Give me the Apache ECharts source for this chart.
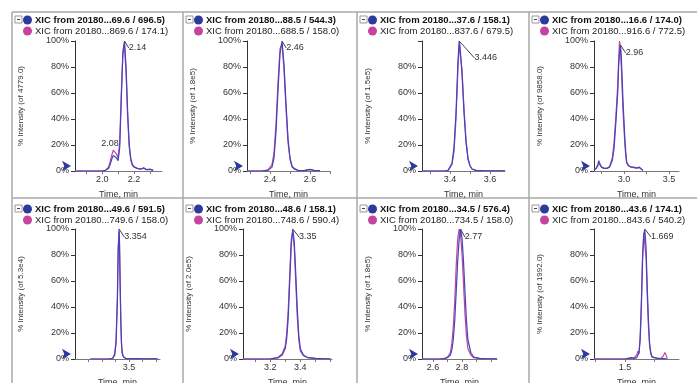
<!DOCTYPE html>
<html>
<head>
<meta charset="utf-8">
<script src="https://cdn.jsdelivr.net/npm/echarts@6/dist/echarts.min.js"></script>
<style>
  html, body { margin: 0; padding: 0; background: #fff; }
  #main { width: 697px; height: 383px; }
</style>
</head>
<body>
<div id="main"></div>
<script>
// values (time in min, intensity in %)
const time1 = [1.83, 1.86, 1.90, 1.94, 1.98, 2.00, 2.02, 2.04, 2.05, 2.06, 2.07, 2.08, 2.09, 2.10, 2.11, 2.12, 2.13, 2.14, 2.15, 2.16, 2.17, 2.18, 2.19, 2.20, 2.22, 2.24, 2.26, 2.28, 2.30, 2.32]
const blue1 = [0, 0, 0, 0, 0, 0, 0.5, 2, 5, 9, 12, 13, 10, 8, 18, 55, 92, 100, 80, 45, 20, 9, 5, 3, 2, 1.5, 2.5, 1, 1.5, 0.5]
const pink1 = [0, 0, 0, 0, 0, 0, 0.5, 3, 7, 12, 16, 17, 13, 10, 22, 60, 90, 96, 75, 40, 18, 8, 4, 2.5, 2, 1.5, 2, 1, 1, 0.5]

const time2 = [2.285, 2.32, 2.36, 2.39, 2.41, 2.42, 2.43, 2.44, 2.45, 2.46, 2.47, 2.48, 2.49, 2.50, 2.51, 2.52, 2.54, 2.57, 2.60, 2.62, 2.65]
const blue2 = [0, 0, 0, 0.5, 3, 10, 30, 62, 90, 100, 82, 52, 25, 10, 4, 1.5, 0.5, 0.3, 1.2, 0.5, 0.3]
const pink2 = [0, 0, 0, 0.8, 5, 14, 36, 68, 94, 98, 78, 48, 22, 9, 3, 1.5, 0.5, 0.3, 1, 0.5, 0.3]

const time3 = [3.26, 3.30, 3.34, 3.37, 3.39, 3.40, 3.41, 3.42, 3.43, 3.44, 3.446, 3.45, 3.46, 3.47, 3.48, 3.49, 3.50, 3.51, 3.53, 3.56, 3.60, 3.65, 3.675]
const blue3 = [0, 0, 0, 0, 0.5, 2, 6, 18, 45, 85, 100, 96, 75, 45, 22, 9, 4, 1.5, 0.5, 0.3, 0.2, 0.2, 0.2]
const pink3 = [0, 0, 0, 0, 0.3, 1.5, 5, 15, 40, 80, 97, 98, 78, 48, 24, 10, 4, 1.5, 0.5, 0.3, 0.2, 0.2, 0.2]

const time4 = [2.667, 2.69, 2.71, 2.72, 2.73, 2.75, 2.78, 2.81, 2.84, 2.87, 2.89, 2.91, 2.93, 2.94, 2.95, 2.96, 2.97, 2.98, 2.99, 3.00, 3.01, 3.02, 3.03, 3.05, 3.08, 3.11, 3.14, 3.17, 3.19, 3.21]
const blue4 = [1, 2, 5, 8, 6, 3, 2, 2, 3, 8, 18, 38, 60, 80, 90, 97, 88, 70, 52, 38, 24, 14, 7, 4, 3, 3, 2.5, 3, 3, 0.5]
const pink4 = [1, 2, 4, 6, 5, 3, 2, 2, 3.5, 10, 22, 42, 66, 85, 100, 95, 80, 62, 45, 32, 20, 11, 6, 4, 3, 2.5, 2, 2.5, 2, 0.5]

const time5 = [2.93, 3.0, 3.1, 3.2, 3.26, 3.29, 3.31, 3.33, 3.34, 3.354, 3.36, 3.37, 3.38, 3.39, 3.40, 3.42, 3.45, 3.5, 3.6, 3.7, 3.8, 3.92]
const blue5 = [0, 0, 0, 0, 0.5, 3, 12, 45, 80, 100, 92, 60, 30, 12, 5, 1.5, 0.5, 0.3, 0.3, 0.2, 0.2, 0.2]
const pink5 = [0, 0, 0, 0, 0.5, 4, 15, 50, 85, 98, 88, 55, 27, 11, 4, 1.5, 0.5, 0.3, 0.3, 0.2, 0.2, 0.2]

const time6 = [3.02, 3.08, 3.14, 3.20, 3.25, 3.28, 3.30, 3.31, 3.32, 3.33, 3.34, 3.35, 3.36, 3.37, 3.38, 3.39, 3.40, 3.42, 3.45, 3.50, 3.55, 3.60]
const blue6 = [0, 0, 0, 0.2, 0.8, 3, 8, 16, 32, 60, 88, 100, 90, 65, 38, 18, 8, 3, 1, 0.5, 0.3, 0.2]
const pink6 = [0, 0, 0, 0.2, 1, 4, 10, 20, 38, 66, 92, 98, 85, 58, 32, 15, 6, 2.5, 1, 0.5, 0.3, 0.2]

const time7 = [2.525, 2.56, 2.60, 2.64, 2.68, 2.70, 2.72, 2.73, 2.74, 2.75, 2.76, 2.77, 2.78, 2.79, 2.80, 2.81, 2.82, 2.83, 2.84, 2.86, 2.88, 2.92, 2.96, 3.0, 3.04]
const blue7 = [0, 0, 0, 0, 0.3, 1, 3, 7, 15, 30, 52, 75, 92, 100, 93, 75, 52, 30, 15, 5, 1.5, 0.5, 0.3, 0.2, 0.2]
const pink7 = [0, 0, 0, 0, 0.5, 1.5, 5, 12, 25, 45, 72, 92, 100, 95, 80, 58, 35, 18, 8, 3, 1, 0.5, 0.3, 0.2, 0.2]

const time8 = [1.237, 1.30, 1.38, 1.45, 1.50, 1.55, 1.58, 1.60, 1.61, 1.62, 1.63, 1.64, 1.65, 1.66, 1.669, 1.68, 1.69, 1.70, 1.71, 1.72, 1.73, 1.75, 1.78, 1.81, 1.83, 1.84, 1.85, 1.86]
const blue8 = [0, 0, 0, 0, 0, 1, 0.5, 1, 2, 5, 15, 40, 75, 95, 100, 85, 55, 30, 12, 5, 2, 1, 0.5, 0.3, 0.3, 0.3, 0.2, 0.2]
const pink8 = [0, 0, 0, 0, 0, 0.5, 1, 3, 6, 4, 18, 45, 80, 97, 96, 78, 48, 25, 10, 4, 1.5, 1, 0.5, 0.5, 3, 5, 3, 0.5]

const times = [time1, time2, time3, time4, time5, time6, time7, time8]
const blues = [blue1, blue2, blue3, blue4, blue5, blue6, blue7, blue8]
const pinks = [pink1, pink2, pink3, pink4, pink5, pink6, pink7, pink8]

const blueNames = [
  'XIC from 20180...69.6 / 696.5)', 'XIC from 20180...88.5 / 544.3)',
  'XIC from 20180...37.6 / 158.1)', 'XIC from 20180...16.6 / 174.0)',
  'XIC from 20180...49.6 / 591.5)', 'XIC from 20180...48.6 / 158.1)',
  'XIC from 20180...34.5 / 576.4)', 'XIC from 20180...43.6 / 174.1)'
]
const pinkNames = [
  'XIC from 20180...869.6 / 174.1)', 'XIC from 20180...688.5 / 158.0)',
  'XIC from 20180...837.6 / 679.5)', 'XIC from 20180...916.6 / 772.5)',
  'XIC from 20180...749.6 / 158.0)', 'XIC from 20180...748.6 / 590.4)',
  'XIC from 20180...734.5 / 158.0)', 'XIC from 20180...843.6 / 540.2)'
]
const yNames = [
  '% Intensity (of 4779.0)', '% Intensity (of 1.8e5)', '% Intensity (of 1.5e5)', '% Intensity (of 9858.0)',
  '% Intensity (of 5.3e4)', '% Intensity (of 2.0e5)', '% Intensity (of 1.8e5)', '% Intensity (of 1992.0)'
]
const peakTimes = [2.14, 2.46, 3.446, 2.96, 3.354, 3.35, 2.79, 1.669]
const peakTexts = ['2.14', '2.46', '3.446', '2.96', '3.354', '3.35', '2.77', '1.669']
const xMins = [1.83, 2.285, 3.26, 2.667, 2.706, 3.02, 2.525, 1.237]
const xMaxs = [2.375, 2.7, 3.675, 3.61, 3.956, 3.61, 3.04, 1.96]
const xTicks = [
  [1.9, 2.0, 2.1, 2.2, 2.3], [2.3, 2.4, 2.5, 2.6, 2.7], [3.3, 3.4, 3.5, 3.6], [2.75, 3.0, 3.25, 3.5],
  [2.9, 3.1, 3.3, 3.5, 3.7, 3.9], [3.1, 3.2, 3.3, 3.4, 3.5, 3.6], [2.6, 2.7, 2.8, 2.9, 3.0], [1.25, 1.5, 1.75]
]
const xLabels = [[2.0, 2.2], [2.4, 2.6], [3.4, 3.6], [3.0, 3.5], [3.5], [3.2, 3.4], [2.6, 2.8], [1.5]]
const yLabelsFull = [0, 20, 40, 60, 80, 100]
const yLabelsShort = [0, 20, 40, 60, 80]
const yLabels = [yLabelsFull, yLabelsFull, yLabelsShort, yLabelsFull, yLabelsFull, yLabelsFull, yLabelsFull, yLabelsShort]
// small side peak label in panel 1
const sideTime = 2.08
const sideText = '2.08'

// layout
const panelLefts = [12, 183, 357, 529]
const gridLefts = [75, 247, 422, 594, 75, 243, 422, 594]
const gridWidths = [87, 83, 83, 85, 85, 89, 75, 85]
const gridTops = [41, 229]
const labelShift = [[3, 7], [3, 7], [14, 17], [4, 8], [4, 8], [5, 8], [3, 8], [5, 8]]

const FONT = 'Liberation Sans'
const BLUE = '#4045bb'
const BLUE_DOT = '#2c3a9c'
const PINK = '#c4449e'
const TXT = '#333'

const myChart = echarts.init(document.getElementById('main'), null, { renderer: 'canvas' })

const grid = []
const xAxis = []
const yAxis = []
const series = []
const legend = []
const graphic = []

for (let i = 0; i < 8; i++) {
  const row = i < 4 ? 0 : 1
  grid.push({
    left: gridLefts[i], top: gridTops[row], width: gridWidths[i], height: 130,
    containLabel: false, outerBoundsMode: 'none'
  })
  xAxis.push({
    type: 'value', gridIndex: i, min: xMins[i], max: xMaxs[i],
    name: 'Time, min', nameLocation: 'middle', nameGap: 19,
    nameTextStyle: { fontSize: 9, color: TXT, fontFamily: FONT },
    axisLine: { onZero: false, lineStyle: { color: '#777' } },
    axisTick: { length: 3, customValues: xTicks[i], lineStyle: { color: '#777' } },
    axisLabel: {
      customValues: xLabels[i], fontSize: 9, color: TXT, fontFamily: FONT, margin: 4,
      formatter: (v) => Number(v).toFixed(1)
    },
    splitLine: { show: false }
  })
  yAxis.push({
    type: 'value', gridIndex: i, min: 0, max: 100, interval: 20,
    name: yNames[i], nameLocation: 'middle', nameGap: 50,
    nameTextStyle: { fontSize: 8, color: TXT, fontFamily: FONT },
    axisLine: { show: true, lineStyle: { color: '#333' } },
    axisTick: { show: true, length: 4, lineStyle: { color: '#333' } },
    axisLabel: {
      customValues: yLabels[i], fontSize: 9, color: TXT, fontFamily: FONT, margin: 6,
      formatter: '{value}%'
    },
    splitLine: { show: false }
  })

  const t = times[i]
  const pinkData = t.map((x, k) => {
    if (i === 0 && x === sideTime) {
      return {
        value: [x, pinks[i][k]], symbol: 'circle', symbolSize: 0.5,
        label: { show: true, position: 'top', distance: 1, offset: [-5, 0], formatter: sideText, fontSize: 9, color: TXT, fontFamily: FONT }
      }
    }
    return [x, pinks[i][k]]
  })
  const blueData = t.map((x, k) => {
    if (x === peakTimes[i]) {
      return {
        value: [x, blues[i][k]], symbol: 'circle', symbolSize: 0.5,
        label: { show: true, position: 'right', distance: 1, formatter: peakTexts[i], fontSize: 9, color: TXT, fontFamily: FONT }
      }
    }
    return [x, blues[i][k]]
  })

  series.push({
    type: 'line', name: pinkNames[i], xAxisIndex: i, yAxisIndex: i,
    data: pinkData, symbol: 'none', silent: true, z: 2,
    lineStyle: { color: PINK, width: 1.2 }, itemStyle: { color: PINK },
    animation: false
  })
  series.push({
    type: 'line', name: blueNames[i], xAxisIndex: i, yAxisIndex: i,
    data: blueData, symbol: 'none', silent: true, z: 3,
    lineStyle: { color: BLUE, width: 1.2 }, itemStyle: { color: BLUE },
    labelLayout: { dx: labelShift[i][0], dy: labelShift[i][1] },
    labelLine: { show: true, lineStyle: { color: '#444', width: 1 } },
    markPoint: {
      silent: true,
      data: [{
        coord: [xMins[i], 0], symbol: 'arrow', symbolRotate: -90, symbolSize: [8, 9],
        symbolOffset: [-4, -5], itemStyle: { color: BLUE_DOT }, label: { show: false }
      }]
    },
    animation: false
  })

  const pl = panelLefts[i % 4]
  const top = row === 0 ? 14 : 203
  legend.push({
    orient: 'vertical', left: pl + 11, top: top + 1, padding: 0, itemGap: 1,
    itemWidth: 9, itemHeight: 9, icon: 'circle',
    textStyle: { fontSize: 9.5, color: '#222', fontFamily: FONT, padding: [0, 0, 0, -2] },
    selectedMode: false,
    data: [
      { name: blueNames[i], itemStyle: { color: BLUE_DOT }, textStyle: { fontWeight: 'bold', color: '#111' } },
      { name: pinkNames[i], itemStyle: { color: PINK } }
    ]
  })
  // collapse box
  graphic.push({
    type: 'rect', shape: { x: pl + 3, y: top + 2, width: 7, height: 7 },
    style: { fill: '#fff', stroke: '#999', lineWidth: 1 }
  })
  graphic.push({
    type: 'line', shape: { x1: pl + 5, y1: top + 5.5, x2: pl + 8, y2: top + 5.5 },
    style: { stroke: '#444', lineWidth: 1 }
  })
}

// panel frame lines
const SEP = '#a8a8a8'
graphic.push({ type: 'line', shape: { x1: 12, y1: 12, x2: 697, y2: 12 }, style: { stroke: SEP, lineWidth: 1.5 } })
graphic.push({ type: 'line', shape: { x1: 12, y1: 198, x2: 697, y2: 198 }, style: { stroke: SEP, lineWidth: 1.5 } })
panelLefts.forEach((x) => {
  graphic.push({ type: 'line', shape: { x1: x, y1: 12, x2: x, y2: 383 }, style: { stroke: SEP, lineWidth: 1.5 } })
})

myChart.setOption({
  backgroundColor: '#fff',
  animation: false,
  textStyle: { fontFamily: FONT },
  grid,
  xAxis,
  yAxis,
  legend,
  series,
  graphic
})
</script>
</body>
</html>
